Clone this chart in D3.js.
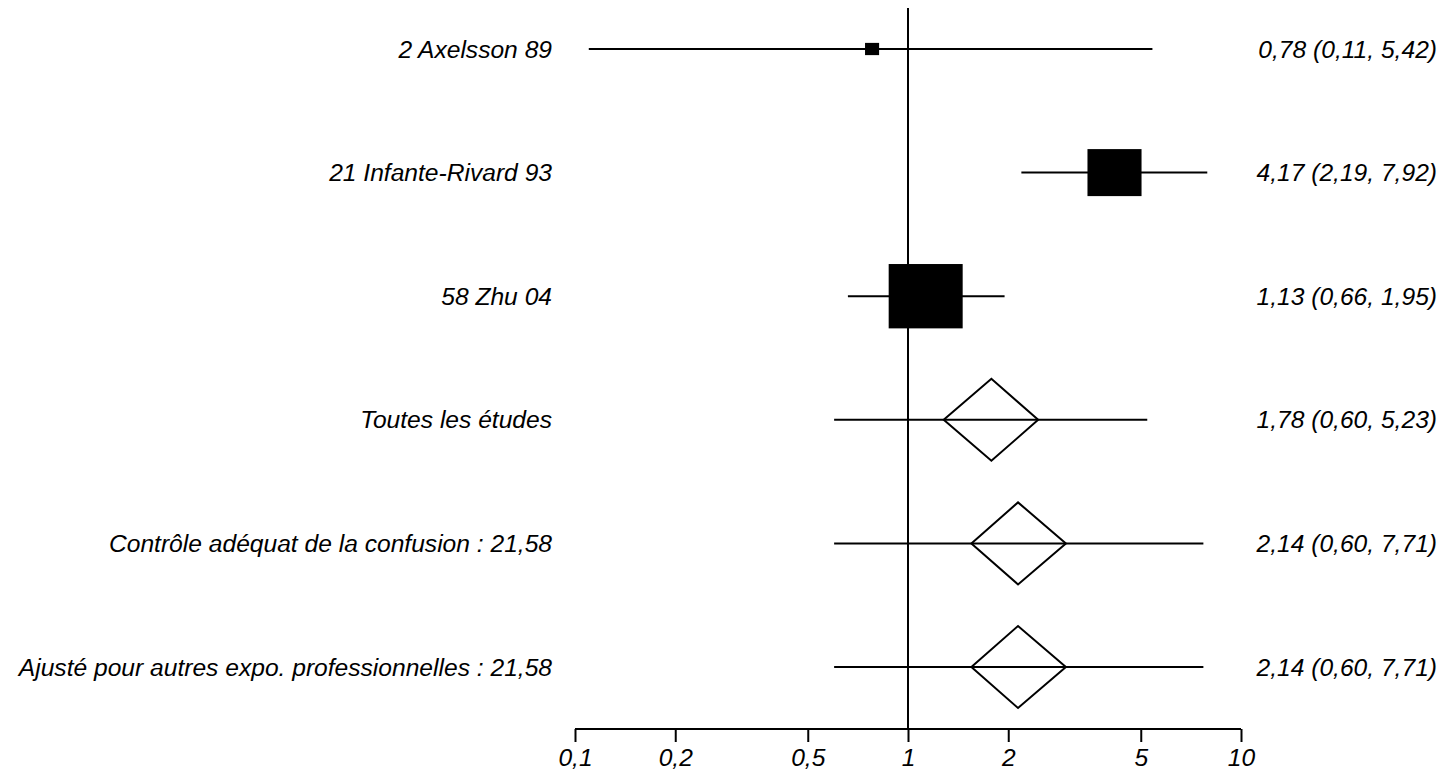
<!DOCTYPE html>
<html><head><meta charset="utf-8">
<script src="https://cdn.jsdelivr.net/npm/d3@7"></script>
<style>body{margin:0;background:#fff}svg{display:block}text{font-family:"Liberation Sans",Arial,sans-serif;font-style:italic}</style>
</head><body><svg id="c" width="1446" height="770"></svg>
<script>
const labels = ["2 Axelsson 89","21 Infante-Rivard 93","58 Zhu 04","Toutes les études","Contrôle adéquat de la confusion : 21,58","Ajusté pour autres expo. professionnelles : 21,58"];
const estimates = [0.78, 4.17, 1.13, 1.78, 2.14, 2.14];
const lower = [0.11, 2.19, 0.66, 0.60, 0.60, 0.60];
const upper = [5.42, 7.92, 1.95, 5.23, 7.71, 7.71];
const kind = ["study","study","study","pooled","pooled","pooled"];
const weights = [2.3, 34.0, 63.7, null, null, null];
const diamondLow = [null, null, null, 1.28, 1.55, 1.55];
const diamondHigh = [null, null, null, 2.46, 2.98, 2.98];
const ciText = ["0,78 (0,11, 5,42)","4,17 (2,19, 7,92)","1,13 (0,66, 1,95)","1,78 (0,60, 5,23)","2,14 (0,60, 7,71)","2,14 (0,60, 7,71)"];
const tickValues = [0.1, 0.2, 0.5, 1, 2, 5, 10];
const tickLabels = ["0,1","0,2","0,5","1","2","5","10"];

const svg = d3.select("#c");
const x = d3.scaleLog().domain([0.1, 10]).range([575, 1241]);
const y = d3.scalePoint().domain(d3.range(labels.length)).range([49, 667]);
const axisY = 729;
const fs = 24.6;

// reference line at 1
svg.append("line").attr("x1", x(1)).attr("x2", x(1)).attr("y1", 8).attr("y2", axisY)
  .attr("stroke", "#000").attr("stroke-width", 2);

// axis
const axis = d3.axisBottom(x).tickValues(tickValues).tickSize(13)
  .tickFormat((d, i) => tickLabels[i]);
const ag = svg.append("g").attr("transform", `translate(0,${axisY})`).call(axis);
ag.select(".domain").attr("stroke", "#000").attr("stroke-width", 2).attr("d", `M${x(0.1)},0H${x(10)}`);
ag.selectAll(".tick line").attr("stroke", "#000").attr("stroke-width", 2);
ag.selectAll(".tick text").attr("font-size", fs).attr("font-family", "Liberation Sans, Arial, sans-serif")
  .attr("font-style", "italic").attr("fill", "#000").attr("y", 37).attr("dy", 0);

const k = 74 / Math.sqrt(63.7);
const rows = svg.append("g");
labels.forEach((lab, i) => {
  const cy = y(i);
  rows.append("line").attr("x1", x(lower[i])).attr("x2", x(upper[i])).attr("y1", cy).attr("y2", cy)
    .attr("stroke", "#000").attr("stroke-width", 2);
  if (kind[i] === "study") {
    const w = k * Math.sqrt(weights[i]);
    const h = w / 1.15;
    rows.append("rect").attr("x", x(estimates[i]) - w / 2).attr("y", cy - h / 2)
      .attr("width", w).attr("height", h).attr("fill", "#000");
  } else {
    const hh = 41;
    const pts = [[x(diamondLow[i]), cy], [x(estimates[i]), cy - hh], [x(diamondHigh[i]), cy], [x(estimates[i]), cy + hh]];
    rows.append("path").attr("d", "M" + pts.map(p => p.join(",")).join("L") + "Z")
      .attr("fill", "none").attr("stroke", "#000").attr("stroke-width", 2);
  }
  rows.append("text").attr("x", 552).attr("y", cy).attr("dy", "0.35em").attr("text-anchor", "end")
    .attr("font-size", fs).text(lab);
  rows.append("text").attr("x", 1437).attr("y", cy).attr("dy", "0.35em").attr("text-anchor", "end")
    .attr("font-size", fs).text(ciText[i]);
});
</script></body></html>
